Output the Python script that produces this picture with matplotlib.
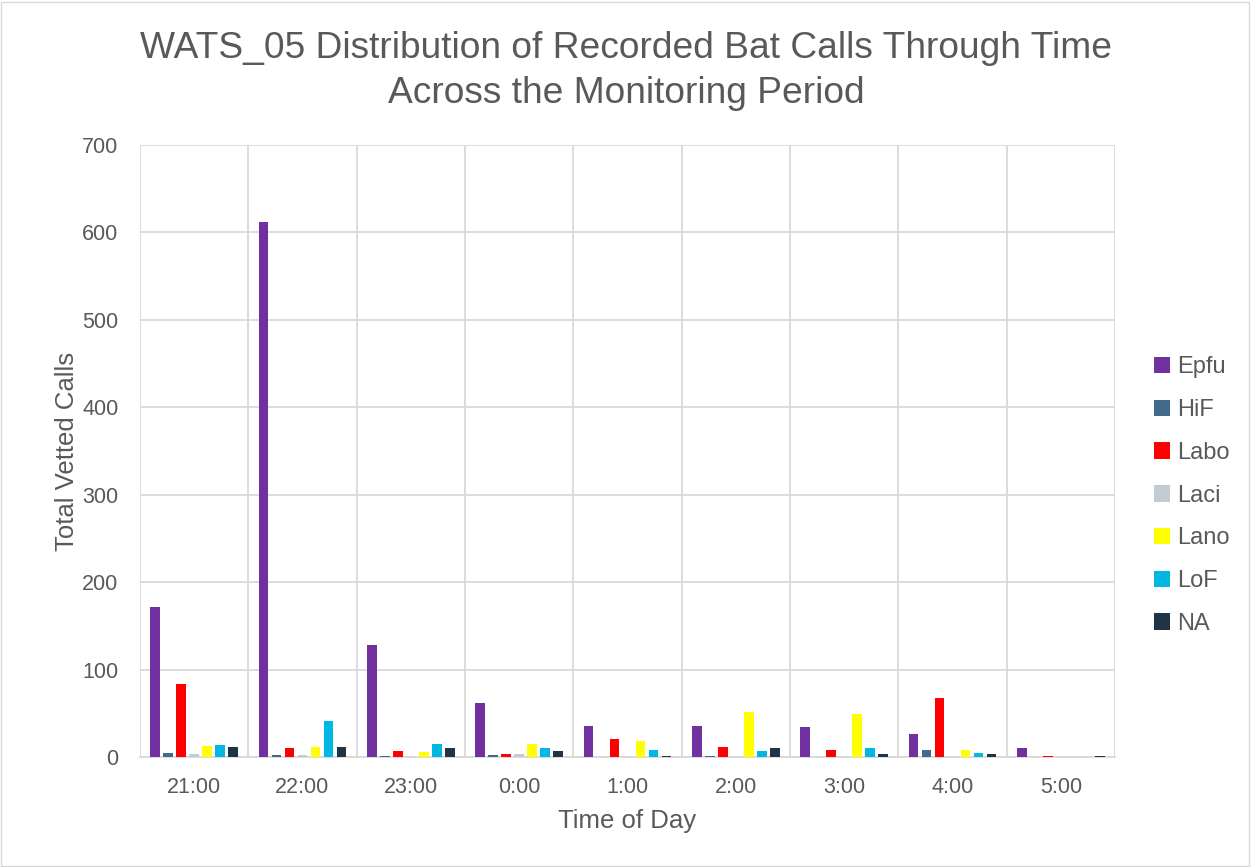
import matplotlib.pyplot as plt
import numpy as np

plt.rcParams['font.family'] = ['Liberation Sans', 'DejaVu Sans']

hours = ['21:00', '22:00', '23:00', '0:00', '1:00', '2:00', '3:00', '4:00', '5:00']
species = ['Epfu', 'HiF', 'Labo', 'Laci', 'Lano', 'LoF', 'NA']
colors = ['#7030A0', '#416A8C', '#FF0000', '#BFCCD6', '#FFFF00', '#00B8E2', '#1F3447']

epfu = [171, 612, 128, 62, 36, 35, 34, 26, 10]
hif = [5, 2, 1, 2, 0, 1, 0, 8, 0]
labo = [83, 10, 7, 4, 21, 11, 8, 68, 1]
laci = [4, 2, 0, 4, 0, 0, 0, 0, 0]
lano = [13, 12, 6, 15, 18, 52, 49, 8, 0]
lof = [14, 41, 15, 10, 8, 7, 10, 5, 0]
na = [11, 12, 10, 7, 1, 10, 4, 3, 1]
series = [epfu, hif, labo, laci, lano, lof, na]

txt = '#595959'
fig = plt.figure(figsize=(12.52, 8.67), dpi=100)
ax = fig.add_axes([140/1252, 1 - 757/867, 975/1252, 612/867])

x = np.arange(len(hours))
step = 0.12
w = 0.09
for i, (s, vals, c) in enumerate(zip(species, series, colors)):
    ax.bar(x + (i - 3) * step, vals, width=w, color=c, label=s, zorder=3)

ax.set_xlim(-0.5, len(hours) - 0.5)
ax.set_ylim(0, 700)
ax.set_yticks(range(0, 701, 100))
ax.set_xticks(x)
ax.set_xticklabels(hours)
ax.set_xticks(np.arange(-0.5, len(hours), 1), minor=True)
ax.grid(True, which='major', axis='y', color='#D9D9D9', lw=1.3, zorder=0)
ax.grid(True, which='minor', axis='x', color='#D9D9D9', lw=1.3, zorder=0)
ax.tick_params(which='both', length=0, labelsize=15.5, colors=txt)
ax.tick_params(axis='x', pad=14.5)
ax.tick_params(axis='y', pad=15.5)
for sp in ['top', 'right', 'left']:
    ax.spines[sp].set_visible(False)
ax.spines['bottom'].set_color('#D9D9D9')
ax.spines['bottom'].set_linewidth(1.3)

ax.set_xlabel('Time of Day', fontsize=18.5, color=txt, labelpad=8)
ax.set_ylabel('Total Vetted Calls', fontsize=18.5, color=txt, labelpad=2)
fig.text(0.5, 1 - 71/867, 'WATS_05 Distribution of Recorded Bat Calls Through Time\nAcross the Monitoring Period',
         ha='center', va='center', fontsize=26.7, color=txt, linespacing=1.38)

leg = ax.legend(loc='center left', bbox_to_anchor=(1.018, 0.427), frameon=False,
                fontsize=17, labelspacing=0.88, handlelength=0.7, handleheight=0.7, handletextpad=0.3)
for t in leg.get_texts():
    t.set_color(txt)

fig.patches.append(plt.Rectangle((0.001, 0.001), 0.997, 0.997, transform=fig.transFigure,
                                 fill=False, edgecolor='#D9D9D9', lw=1))
fig.savefig('out.png', dpi=100)
